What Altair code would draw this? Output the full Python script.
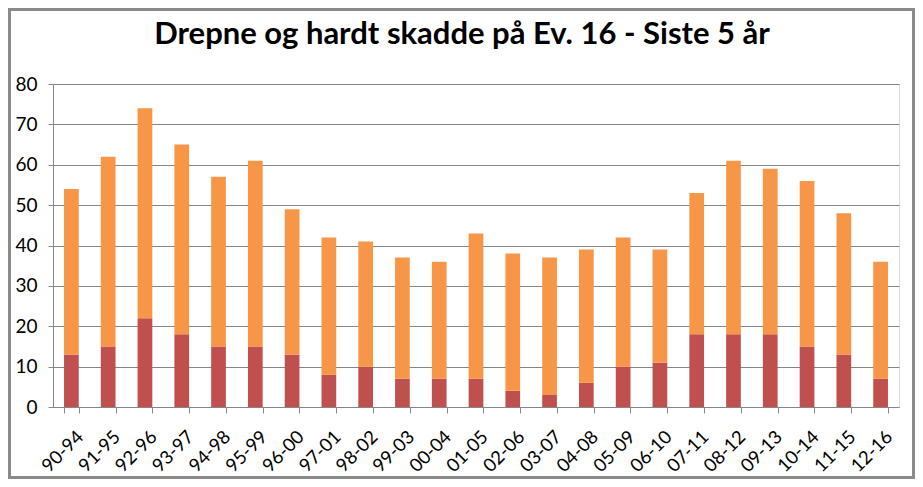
import altair as alt
import pandas as pd

periods = ["90-94", "91-95", "92-96", "93-97", "94-98", "95-99", "96-00", "97-01",
           "98-02", "99-03", "00-04", "01-05", "02-06", "03-07", "04-08", "05-09",
           "06-10", "07-11", "08-12", "09-13", "10-14", "11-15", "12-16"]
drepne = [13, 15, 22, 18, 15, 15, 13, 8, 10, 7, 7, 7, 4, 3, 6, 10, 11, 18, 18, 18, 15, 13, 7]
hardt_skadde = [41, 47, 52, 47, 42, 46, 36, 34, 31, 30, 29, 36, 34, 34, 33, 32, 28, 35, 43, 41, 41, 35, 29]
series_names = ["Drepne", "Hardt skadde"]
series_colors = ["#C0504D", "#F79646"]
y_ticks = [0, 10, 20, 30, 40, 50, 60, 70, 80]
title_text = "Drepne og hardt skadde på Ev. 16 - Siste 5 år"

rows = []
for p, d, h in zip(periods, drepne, hardt_skadde):
    rows.append({"periode": p, "serie": series_names[0], "verdi": d, "ord": 0})
    rows.append({"periode": p, "serie": series_names[1], "verdi": h, "ord": 1})
df = pd.DataFrame(rows)

FONT = "Lato"
W, H = 846, 323
PL, PT, PR, PB = 45, 76, 16, 72

bars = alt.Chart(df).mark_bar().encode(
    x=alt.X("periode:N", sort=periods,
            scale=alt.Scale(paddingInner=0.6, paddingOuter=0.3),
            axis=alt.Axis(title=None, labelAngle=-45, labelAlign="right",
                          labelBaseline="top", labelFontSize=18.5, labelFont=FONT,
                          labelColor="#000000", labelPadding=14, tickBand="extent",
                          tickSize=6, tickColor="#868686", domainColor="#868686",
                          labelOffset=2)),
    y=alt.Y("verdi:Q", stack="zero",
            scale=alt.Scale(domain=[0, 80], nice=False),
            axis=alt.Axis(title=None, values=y_ticks, labelFontSize=19, labelFont=FONT,
                          labelColor="#000000", labelPadding=11, tickSize=5,
                          tickColor="#868686", domainColor="#868686",
                          grid=True, gridColor="#868686", gridWidth=1)),
    color=alt.Color("serie:N", scale=alt.Scale(domain=series_names, range=series_colors),
                    legend=None),
    order=alt.Order("ord:Q"),
)

title = alt.Chart(pd.DataFrame({"t": [title_text]})).mark_text(
    font=FONT, fontSize=31, fontWeight="bold", color="#000000",
    align="center", baseline="alphabetic",
).encode(text="t:N", x=alt.value(409), y=alt.value(-40))

border = alt.Chart(pd.DataFrame({"t": [title_text]})).mark_rect(
    filled=False, stroke="#8A8A8A", strokeWidth=3).encode(
    x=alt.value(-PL + 1.5), x2=alt.value(W + PR - 1.5),
    y=alt.value(-PT + 1.5), y2=alt.value(H + PB - 1.5),
)

chart = alt.layer(bars, title, border).properties(
    width=W, height=H,
    autosize=alt.AutoSizeParams(type="none"),
    padding={"left": PL, "top": PT, "right": PR, "bottom": PB},
).configure_view(fill="#D7E4BD", stroke=None).configure(background="#FFFFFF")

chart.save("out.html", embed_options={"renderer": "svg", "actions": False})
